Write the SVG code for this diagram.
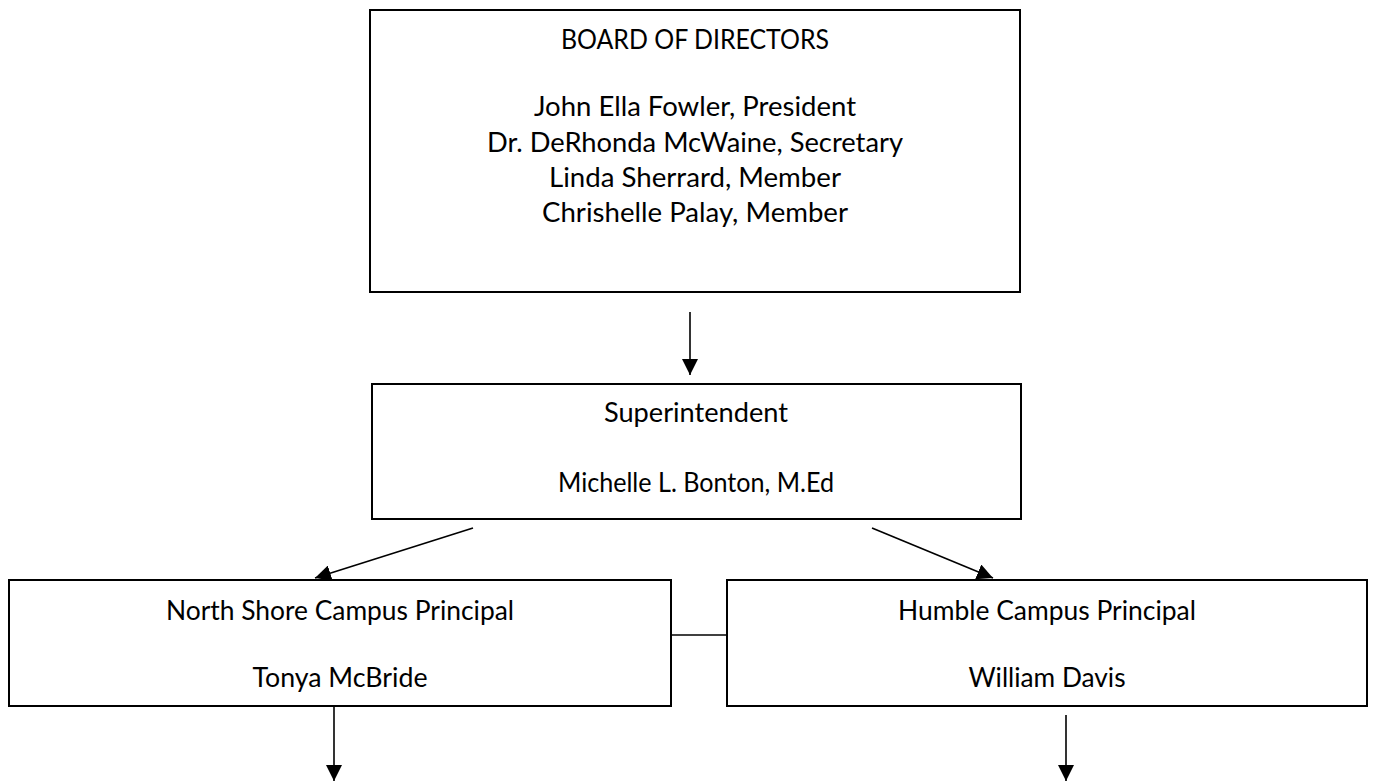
<svg xmlns="http://www.w3.org/2000/svg" width="1375" height="783" viewBox="0 0 1375 783">
<style>
.box{fill:#fff;stroke:#000;stroke-width:2}
.t{font-family:Lato,"Open Sans","Liberation Sans",sans-serif;font-size:26px;fill:#000;text-anchor:middle}
.c{stroke:#000;stroke-width:1.6;fill:none}
</style>
<defs>
<marker id="ah" markerUnits="userSpaceOnUse" markerWidth="16" markerHeight="16" viewBox="0 0 16 16" refX="16" refY="8" orient="auto">
<path d="M0,0 L16,8 L0,16 Z" fill="#000"/>
</marker>
</defs>
<rect width="1375" height="783" fill="#fff"/>
<g id="board">
<rect class="box" x="370" y="10" width="650" height="282"/>
<text class="t" x="695" y="49" textLength="268" lengthAdjust="spacingAndGlyphs">BOARD OF DIRECTORS</text>
<text class="t" x="695" y="116" textLength="322" lengthAdjust="spacingAndGlyphs">John Ella Fowler, President</text>
<text class="t" x="695" y="152" textLength="416" lengthAdjust="spacingAndGlyphs">Dr. DeRhonda McWaine, Secretary</text>
<text class="t" x="695" y="187" textLength="292" lengthAdjust="spacingAndGlyphs">Linda Sherrard, Member</text>
<text class="t" x="695" y="222" textLength="306" lengthAdjust="spacingAndGlyphs">Chrishelle Palay, Member</text>
</g>
<g id="superintendent">
<rect class="box" x="372" y="384" width="649" height="135"/>
<text class="t" x="696" y="422" textLength="184" lengthAdjust="spacingAndGlyphs">Superintendent</text>
<text class="t" x="696" y="492" textLength="276" lengthAdjust="spacingAndGlyphs">Michelle L. Bonton, M.Ed</text>
</g>
<g id="north-shore">
<rect class="box" x="9" y="580" width="662" height="126"/>
<text class="t" x="340" y="620" textLength="348" lengthAdjust="spacingAndGlyphs">North Shore Campus Principal</text>
<text class="t" x="340" y="687" textLength="175" lengthAdjust="spacingAndGlyphs">Tonya McBride</text>
</g>
<g id="humble">
<rect class="box" x="727" y="580" width="640" height="126"/>
<text class="t" x="1047" y="620" textLength="298" lengthAdjust="spacingAndGlyphs">Humble Campus Principal</text>
<text class="t" x="1047" y="687" textLength="157" lengthAdjust="spacingAndGlyphs">William Davis</text>
</g>
<g id="connectors">
<line class="c" x1="690" y1="312" x2="690" y2="375" marker-end="url(#ah)"/>
<line class="c" x1="473" y1="528" x2="315" y2="578" marker-end="url(#ah)"/>
<line class="c" x1="872" y1="528" x2="993" y2="578" marker-end="url(#ah)"/>
<line class="c" x1="671" y1="635" x2="727" y2="635"/>
<line class="c" x1="334" y1="707" x2="334" y2="781" marker-end="url(#ah)"/>
<line class="c" x1="1066" y1="715" x2="1066" y2="781" marker-end="url(#ah)"/>
</g>
</svg>
